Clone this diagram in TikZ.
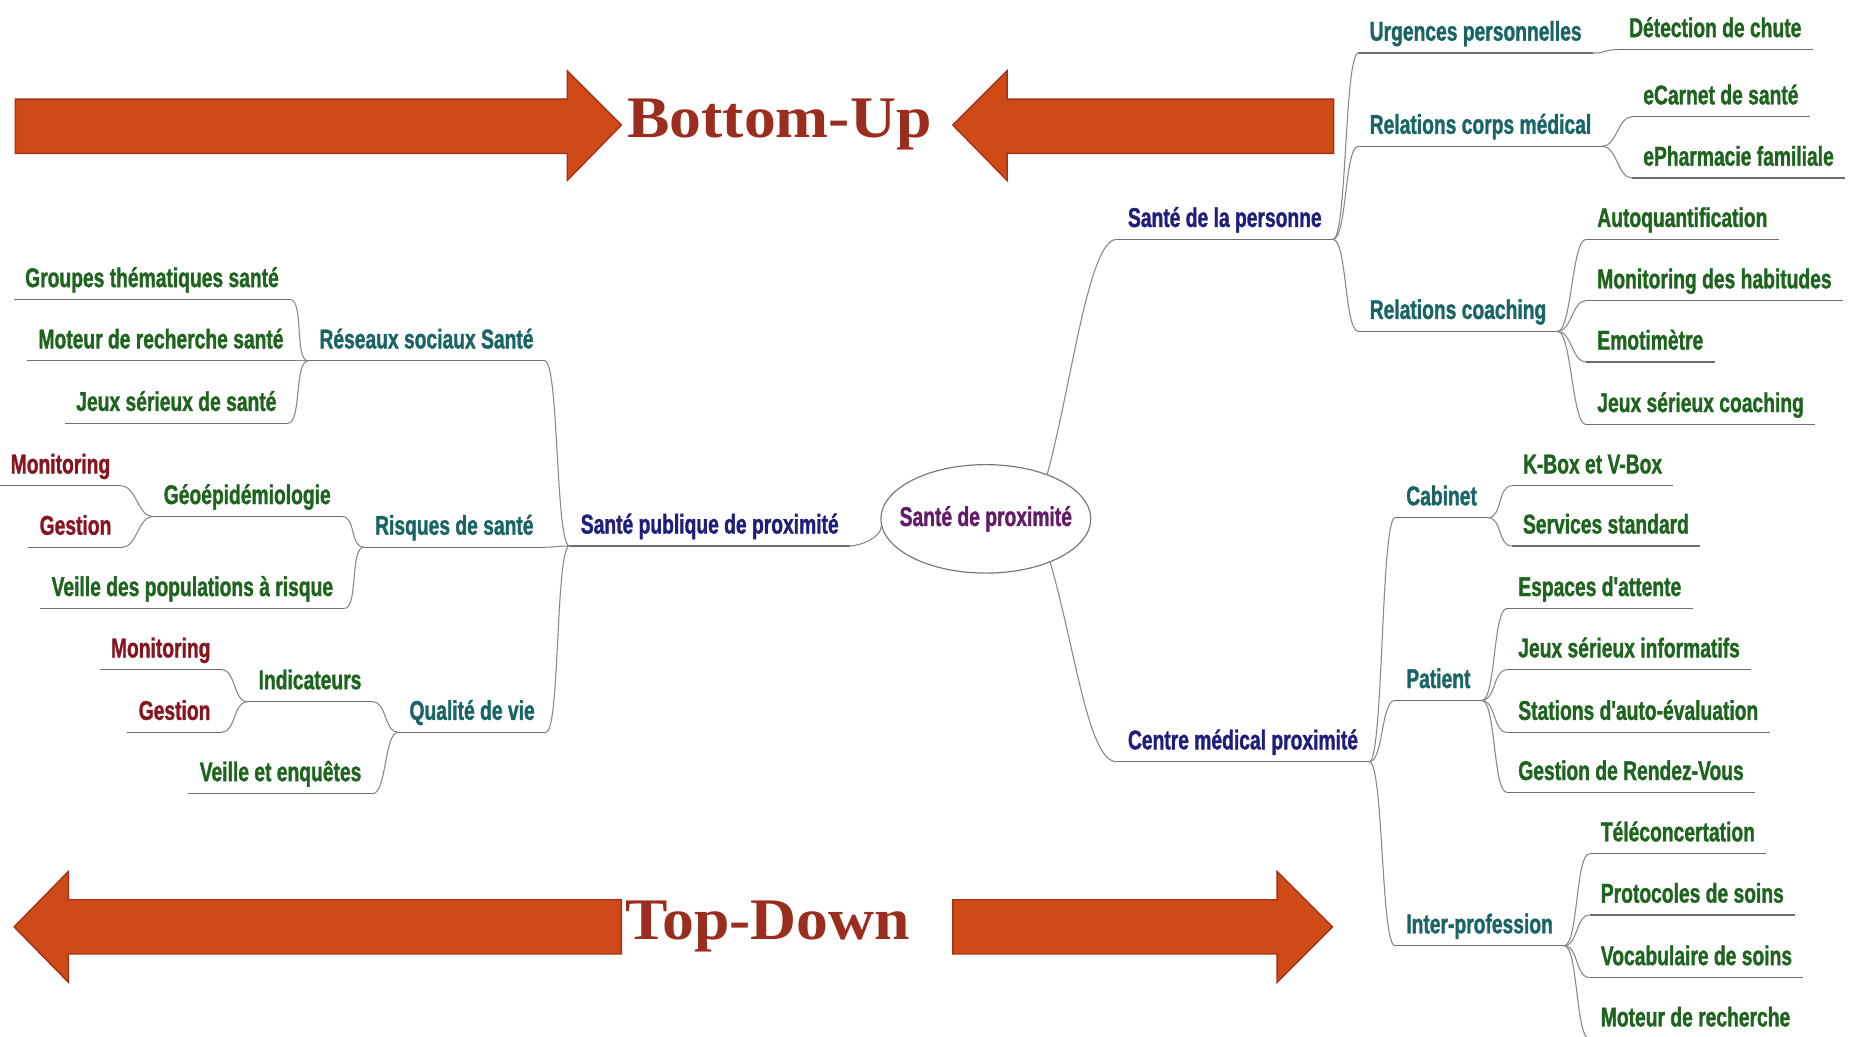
\documentclass[tikz,border=0pt]{standalone}
\usepackage{fontspec}
\usetikzlibrary{shapes.geometric}
\newfontfamily\mapfont{Liberation Sans}[FakeStretch=0.71, FakeBold=1.2]
\newfontfamily\titlefont{Liberation Serif}[FakeStretch=1.08]
\definecolor{mapnavy}{RGB}{30,30,125}
\definecolor{mappurple}{RGB}{100,25,105}
\definecolor{mapteal}{RGB}{25,100,100}
\definecolor{mapgreen}{RGB}{30,100,30}
\definecolor{mapred}{RGB}{135,20,30}
\definecolor{linegray}{RGB}{135,135,135}
\definecolor{ulgray}{RGB}{110,110,110}
\definecolor{ellgray}{RGB}{120,120,120}
\definecolor{arrowfill}{RGB}{208,74,24}
\definecolor{arrowedge}{RGB}{165,50,22}
\definecolor{titlered}{RGB}{155,45,30}
\tikzset{
  lab/.style={font=\mapfont\bfseries\fontsize{23}{27}\selectfont,
    text height=17pt, text depth=5pt, inner xsep=9pt, inner ysep=5pt,
    append after command={(\tikzlastnode.south west) -- (\tikzlastnode.south east)}},
  rt/.style={lab, anchor=south west},
  lt/.style={lab, anchor=south east},
  main/.style={text=mapnavy},
  sub/.style={text=mapteal},
  leaf/.style={text=mapgreen},
  detail/.style={text=mapred},
  ul/.style={draw=ulgray, line width=1.1pt},
  link/.style={draw=linegray, line width=0.9pt},
  rlink/.style={link, to path={.. controls +(12,0) and +(-12,0) .. (\tikztotarget)}},
  llink/.style={link, to path={.. controls +(-12,0) and +(12,0) .. (\tikztotarget)}},
  hub/.style={ellipse, draw=ellgray, fill=white, line width=1pt,
    minimum width=178pt, minimum height=92pt, inner xsep=-14pt, inner ysep=0pt,
    font=\mapfont\bfseries\fontsize{23}{27}\selectfont, text=mappurple},
  title/.style={font=\titlefont\bfseries\fontsize{50}{56}\selectfont,
    text=titlered, anchor=base, inner sep=0pt},
  bigarrow/.style={fill=arrowfill, draw=arrowedge, line width=1.2pt}
}
\begin{document}
\begin{tikzpicture}[x=1pt, y=-1pt]
\useasboundingbox[fill=white] (0,0) rectangle (1568,879);

\filldraw[bigarrow] (13,84) -- (481,84) -- (481,60) -- (527,106) -- (481,153) -- (481,130) -- (13,130) -- cycle;
\filldraw[bigarrow] (1131,84) -- (854,84) -- (854,60) -- (808,106) -- (854,153) -- (854,130) -- (1131,130) -- cycle;
\filldraw[bigarrow] (527,763) -- (58,763) -- (58,739) -- (12,786) -- (58,833) -- (58,809) -- (527,809) -- cycle;
\filldraw[bigarrow] (808,763) -- (1083,763) -- (1083,739) -- (1130,786) -- (1083,833) -- (1083,809) -- (808,809) -- cycle;
\draw (661,117) node[title] (BU) {Bottom-Up};
\draw (651,797) node[title] (TD) {Top-Down};

\draw (836,440) node[hub] (C) {Santé de proximité};

\draw[ul] (483,463) node[rt, main] (SP) {Santé publique de proximité};
\draw[ul] (947,203) node[rt, main] (SdP) {Santé de la personne};
\draw[ul] (947,646) node[rt, main] (CM) {Centre médical proximité};

\draw[ul] (462,306) node[lt, sub] (RS) {Réseaux sociaux Santé};
\draw[ul] (462,464) node[lt, sub] (RI) {Risques de santé};
\draw[ul] (463,621) node[lt, sub] (QV) {Qualité de vie};
\draw[ul] (246,254) node[lt, leaf] (GT) {Groupes thématiques santé};
\draw[ul] (250,306) node[lt, leaf] (MS) {Moteur de recherche santé};
\draw[ul] (244,359) node[lt, leaf] (JS) {Jeux sérieux de santé};
\draw[ul] (290,438) node[lt, leaf] (GE) {Géoépidémiologie};
\draw[ul] (292,516) node[lt, leaf] (VP) {Veille des populations à risque};
\draw[ul] (103,412) node[lt, detail] (M1) {Monitoring};
\draw[ul] (104,464) node[lt, detail] (G1) {Gestion};
\draw[ul] (316,595) node[lt, leaf] (IN) {Indicateurs};
\draw[ul] (316,673) node[lt, leaf] (VE) {Veille et enquêtes};
\draw[ul] (188,568) node[lt, detail] (M2) {Monitoring};
\draw[ul] (188,621) node[lt, detail] (G2) {Gestion};

\draw[ul] (1152,45) node[rt, sub] (U1) {Urgences personnelles};
\draw[ul] (1372,42) node[rt, leaf] (DC) {Détection de chute};
\draw[ul] (1152,124) node[rt, sub] (RCM) {Relations corps médical};
\draw[ul] (1384,99) node[rt, leaf] (EC) {eCarnet de santé};
\draw[ul] (1384,151) node[rt, leaf] (EP) {ePharmacie familiale};
\draw[ul] (1152,281) node[rt, sub] (RC) {Relations coaching};
\draw[ul] (1345,203) node[rt, leaf] (AQ) {Autoquantification};
\draw[ul] (1345,255) node[rt, leaf] (MH) {Monitoring des habitudes};
\draw[ul] (1345,307) node[rt, leaf] (EM) {Emotimètre};
\draw[ul] (1345,360) node[rt, leaf] (JC) {Jeux sérieux coaching};

\draw[ul] (1183,439) node[rt, sub] (CB) {Cabinet};
\draw[ul] (1282,412) node[rt, leaf] (KB) {K-Box et V-Box};
\draw[ul] (1282,463) node[rt, leaf] (SS) {Services standard};
\draw[ul] (1183,594) node[rt, sub] (PA) {Patient};
\draw[ul] (1278,516) node[rt, leaf] (EA) {Espaces d'attente};
\draw[ul] (1278,568) node[rt, leaf] (JI) {Jeux sérieux informatifs};
\draw[ul] (1278,621) node[rt, leaf] (ST) {Stations d'auto-évaluation};
\draw[ul] (1278,672) node[rt, leaf] (GR) {Gestion de Rendez-Vous};
\draw[ul] (1183,802) node[rt, sub] (IP) {Inter-profession};
\draw[ul] (1348,724) node[rt, leaf] (TC) {Téléconcertation};
\draw[ul] (1348,776) node[rt, leaf] (PS) {Protocoles de soins};
\draw[ul] (1348,829) node[rt, leaf] (VS) {Vocabulaire de soins};
\draw[ul] (1348,881) node[rt, leaf] (MR) {Moteur de recherche};

\draw[link] (SP.south east) .. controls +(8,0) and +(0,10) .. (C.184);
\draw[link] (C.36) .. controls +(21,-77) and +(-24,0) .. (SdP.south west);
\draw[link] (C.-34) .. controls +(22,77) and +(-24,0) .. (CM.south west);

\draw[llink] (SP.south west) to (RS.south east);
\draw[llink] (SP.south west) to (RI.south east);
\draw[llink] (SP.south west) to (QV.south east);
\draw[llink] (RS.south west) to (GT.south east);
\draw[llink] (RS.south west) to (MS.south east);
\draw[llink] (RS.south west) to (JS.south east);
\draw[llink] (RI.south west) to (GE.south east);
\draw[llink] (RI.south west) to (VP.south east);
\draw[llink] (GE.south west) to (M1.south east);
\draw[llink] (GE.south west) to (G1.south east);
\draw[llink] (QV.south west) to (IN.south east);
\draw[llink] (QV.south west) to (VE.south east);
\draw[llink] (IN.south west) to (M2.south east);
\draw[llink] (IN.south west) to (G2.south east);

\draw[rlink] (SdP.south east) to (U1.south west);
\draw[rlink] (SdP.south east) to (RCM.south west);
\draw[rlink] (SdP.south east) to (RC.south west);
\draw[rlink] (U1.south east) to (DC.south west);
\draw[rlink] (RCM.south east) to (EC.south west);
\draw[rlink] (RCM.south east) to (EP.south west);
\draw[rlink] (RC.south east) to (AQ.south west);
\draw[rlink] (RC.south east) to (MH.south west);
\draw[rlink] (RC.south east) to (EM.south west);
\draw[rlink] (RC.south east) to (JC.south west);
\draw[rlink] (CM.south east) to (CB.south west);
\draw[rlink] (CM.south east) to (PA.south west);
\draw[rlink] (CM.south east) to (IP.south west);
\draw[rlink] (CB.south east) to (KB.south west);
\draw[rlink] (CB.south east) to (SS.south west);
\draw[rlink] (PA.south east) to (EA.south west);
\draw[rlink] (PA.south east) to (JI.south west);
\draw[rlink] (PA.south east) to (ST.south west);
\draw[rlink] (PA.south east) to (GR.south west);
\draw[rlink] (IP.south east) to (TC.south west);
\draw[rlink] (IP.south east) to (PS.south west);
\draw[rlink] (IP.south east) to (VS.south west);
\draw[rlink] (IP.south east) to (MR.south west);
\end{tikzpicture}
\end{document}
